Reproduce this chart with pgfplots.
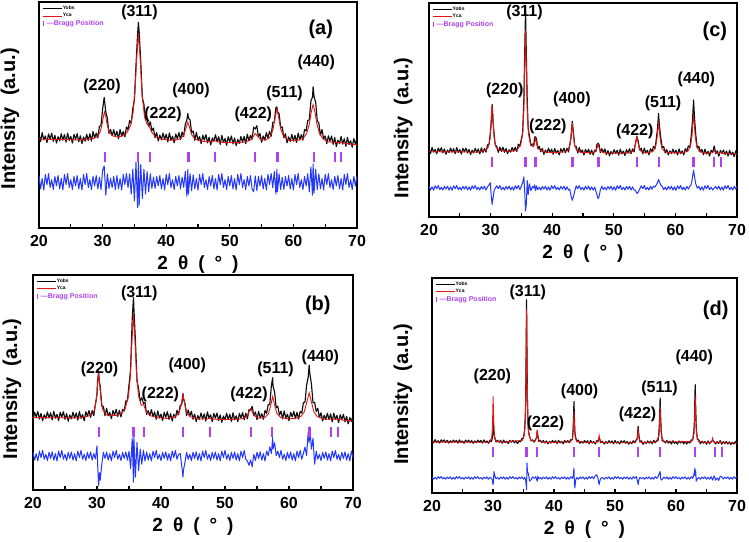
\documentclass[border=0pt]{standalone}
\usepackage{fontspec}
\setmainfont{Liberation Sans}
\usepackage{pgfplots}
\pgfplotsset{compat=1.18}
\usepackage{pgfplotstable}
\definecolor{obscol}{RGB}{15,15,15}
\definecolor{calcol}{RGB}{230,20,20}
\definecolor{difcol}{RGB}{35,55,255}
\definecolor{bragcol}{RGB}{175,65,240}
\newcommand{\tickfont}{\fontsize{16bp}{16bp}\selectfont\bfseries}
\newcommand{\xlabfont}{\fontsize{19bp}{19bp}\selectfont\bfseries}
\newcommand{\ylabfont}{\fontsize{20bp}{20bp}\selectfont\bfseries}
\newcommand{\pkfont}{\fontsize{16bp}{16bp}\selectfont\bfseries}
\newcommand{\panfont}{\fontsize{20bp}{20bp}\selectfont\bfseries}
\newcommand{\legfont}{\fontsize{5bp}{5bp}\selectfont\bfseries}
\newcommand{\braggfont}{\fontsize{7bp}{7bp}\selectfont\bfseries}

\pgfplotsset{
 xrd/.style={
  scale only axis, xmin=20, xmax=70, ymin=0, ymax=100,
  xtick={20,30,40,50,60,70}, minor xtick={25,35,45,55,65}, ytick=\empty,
  tick align=inside, xtick pos=bottom,
  major tick length=3.5bp, minor tick length=3.5bp,
  every tick/.style={black, line width=1.3bp},
  axis line style={line width=1.6bp},
  /pgf/number format/assume math mode=true,
  xticklabel style={font=\tickfont, inner sep=0pt, yshift=-7bp},
  xlabel={2\hspace{10bp}θ\hspace{10bp}(\hspace{10bp}°\hspace{10bp})},
  xlabel style={font=\xlabfont, at={(axis description cs:0.5,0)}, anchor=north, inner sep=0pt, yshift=-28bp},
  ylabel={Intensity\ \ (a.u.)},
  legend style={at={(axis description cs:0.01,0.985)}, anchor=north west, draw=none, fill=none, inner sep=0pt, row sep=1bp, nodes={inner sep=0.6bp}},
  legend cell align=left,
 },
 obsplot/.style={obscol, line width=1.15bp, line join=round, legend image code/.code={\draw[black, line width=0.8bp] (0bp,0bp)--(19bp,0bp);}},
 calplot/.style={calcol, line width=0.9bp, legend image code/.code={\draw[calcol, line width=0.8bp] (0bp,0bp)--(19bp,0bp);}},
 difplot/.style={difcol, line width=1.0bp, line join=round, forget plot},
 bragplot/.style={bragcol, only marks, mark=|, mark size=5bp, mark options={draw=bragcol, line width=2.2bp, line cap=butt}, legend image code/.code={\draw[bragcol, line width=1.3bp] (1bp,-2.5bp)--(1bp,2.5bp);}},
}

\pgfplotstableread{
x o d
20.00 41.5 23.2
20.25 38.2 17.3
20.50 42.2 21.9
20.75 39.0 16.8
21.00 40.7 23.7
21.25 37.8 19.2
21.50 41.6 24.1
21.75 39.4 17.9
22.00 41.9 21.4
22.25 38.4 17.0
22.50 41.0 22.8
22.75 37.6 18.6
23.00 40.4 23.2
23.25 38.6 17.3
23.50 41.7 21.9
23.75 38.9 16.8
24.00 41.3 23.7
24.25 38.0 19.2
24.50 42.0 24.1
24.75 38.8 17.9
25.00 40.5 21.4
25.25 37.6 17.0
25.50 41.4 22.8
25.75 39.2 18.6
26.00 41.7 23.2
26.25 38.2 17.3
26.50 40.8 21.9
26.75 37.4 16.8
27.00 40.3 23.7
27.25 38.4 19.2
27.50 41.5 24.1
27.75 38.7 17.9
28.00 41.7 21.4
28.25 38.5 17.0
28.50 42.7 22.8
28.75 39.8 18.6
29.00 42.0 23.2
29.25 39.9 17.3
29.50 45.0 22.5
29.75 45.4 17.0
30.00 52.5 25.5
30.25 57.8 27.5
30.50 51.3 14.5
30.75 48.6 24.0
31.00 41.8 17.5
31.25 43.6 22.0
31.50 40.8 17.9
31.75 43.5 22.8
32.00 40.5 17.0
32.25 42.8 23.2
32.50 39.5 17.3
32.75 43.6 21.9
33.00 40.6 16.8
33.25 42.7 23.7
33.50 40.3 19.2
33.75 44.7 24.1
34.00 43.5 17.9
34.25 47.5 24.0
34.50 46.4 15.0
34.75 52.9 26.0
35.00 56.7 12.0
35.25 72.1 29.0
35.50 85.7 9.0
35.63 91.0 30.5
35.75 86.5 10.0
36.00 73.6 28.0
36.25 57.7 13.0
36.50 54.6 26.0
36.75 47.8 15.0
37.00 48.2 25.0
37.25 45.0 16.0
37.50 47.0 24.0
37.75 43.0 17.5
38.00 44.2 22.5
38.25 39.9 17.5
38.50 42.2 22.8
38.75 38.5 18.6
39.00 41.1 23.2
39.25 39.0 17.3
39.50 42.0 21.9
39.75 39.2 16.8
40.00 41.5 23.7
40.25 38.1 19.2
40.50 42.1 24.1
40.75 38.8 17.9
41.00 40.6 21.4
41.25 37.7 17.0
41.50 41.6 22.8
41.75 39.5 18.6
42.00 42.2 23.2
42.25 39.2 17.3
42.50 42.5 22.5
42.75 40.5 18.0
43.00 45.9 25.0
43.25 47.8 14.0
43.40 50.7 26.0
43.50 48.6 15.0
43.75 47.8 24.0
44.00 42.1 16.5
44.25 42.9 23.5
44.50 38.8 17.3
44.75 42.3 21.9
45.00 38.8 16.8
45.25 40.4 23.7
45.50 37.3 19.2
45.75 41.0 24.1
46.00 38.9 17.9
46.25 41.3 21.4
46.50 37.7 17.0
46.75 40.2 22.8
47.00 36.7 18.6
47.25 39.8 23.2
47.50 38.4 17.3
47.75 41.3 21.9
48.00 38.1 16.8
48.25 40.4 23.7
48.50 37.0 19.2
48.75 41.0 24.1
49.00 37.8 17.9
49.25 39.6 21.4
49.50 36.6 17.0
49.75 40.4 22.8
50.00 38.2 18.6
50.25 40.7 23.2
50.50 37.2 17.3
50.75 39.8 21.9
51.00 36.4 16.8
51.25 39.2 23.7
51.50 37.4 19.2
51.75 40.5 24.1
52.00 38.0 17.9
52.25 40.5 21.4
52.50 37.3 17.0
52.75 41.5 22.8
53.00 38.6 18.6
53.25 41.0 23.2
53.50 39.2 17.3
53.75 44.6 16.0
54.00 43.8 23.0
54.25 45.3 16.5
54.50 40.2 22.8
54.75 41.8 18.6
55.00 37.9 23.2
55.25 40.7 17.3
55.50 38.9 21.9
55.75 42.2 16.8
56.00 39.7 23.7
56.25 42.8 19.2
56.50 40.6 24.1
56.75 46.6 17.9
57.00 47.0 25.0
57.25 53.4 15.0
57.40 53.6 26.0
57.50 51.3 16.0
57.75 50.6 24.0
58.00 44.4 17.0
58.25 44.7 22.4
58.50 39.9 17.0
58.75 41.7 22.8
59.00 37.7 18.6
59.25 40.3 23.2
59.50 38.3 17.3
59.75 41.4 21.9
60.00 38.5 16.8
60.25 41.0 23.7
60.50 37.9 19.2
60.75 42.0 24.1
61.00 39.0 17.9
61.25 41.3 21.4
61.50 38.9 17.0
61.75 43.6 22.8
62.00 42.9 18.6
62.25 47.5 24.0
62.50 47.9 16.0
62.75 56.2 27.0
63.00 57.9 14.5
63.10 62.5 28.4
63.25 58.0 15.5
63.50 55.7 26.0
63.75 47.5 17.0
64.00 46.4 24.0
64.25 40.9 17.3
64.50 43.6 21.9
64.75 39.5 16.8
65.00 40.7 23.7
65.25 37.3 19.2
65.50 40.8 24.1
65.75 38.4 17.9
66.00 40.7 21.4
66.25 37.0 17.0
66.50 40.0 22.8
66.75 36.0 18.6
67.00 38.9 23.2
67.25 37.3 17.3
67.50 40.5 21.9
67.75 37.1 16.8
68.00 39.5 23.7
68.25 36.1 19.2
68.50 40.1 24.1
68.75 36.9 17.9
69.00 38.6 21.4
69.25 35.7 17.0
69.50 39.5 22.8
69.75 37.2 18.6
70.00 39.7 23.2
}\datA

\pgfplotstableread{
x y
20 39.3
22 39.2
24 39.1
27 38.95
28.5 39.6
29.2 40.6
29.6 42.4
29.9 45.6
30.1 48.9
30.3 51.3
30.5 49.3
30.7 46.0
31.0 42.8
31.5 40.9
32.2 40.3
33.0 40.6
33.8 42.1
34.4 45.3
34.8 51.2
35.1 61.0
35.35 74.8
35.63 86.1
35.9 75.4
36.2 59.4
36.6 49.1
37.0 45.9
37.3 45.3
37.7 42.5
38.3 40.4
39.5 39.2
40.5 38.9
41.5 38.9
42.3 39.6
42.8 41.4
43.1 44.2
43.4 46.8
43.7 44.2
44.0 41.3
44.5 39.4
45.5 38.4
47.2 38.2
47.6 38.7
48.0 38.2
49 37.85
51 37.75
52.5 38.1
53.3 39.0
53.7 40.5
54.0 41.8
54.3 40.9
54.8 39.2
55.6 38.9
56.3 40.1
56.8 43.6
57.1 48.5
57.4 52.6
57.7 48.7
58.0 43.8
58.5 40.3
59.3 38.8
60.5 38.6
61.5 39.6
62.1 41.9
62.5 46.0
62.8 51.2
63.1 54.6
63.4 51.2
63.7 46.0
64.1 41.8
64.7 39.3
65.5 38.1
66.5 37.9
67.5 37.8
68.5 37.3
70 36.8
}\calA

\pgfplotstableread{
x o d
20.00 32.4 17.7
20.25 36.2 13.9
20.50 34.0 16.9
20.75 36.5 13.5
21.00 33.0 18.1
21.25 35.6 15.1
21.50 32.2 18.4
21.75 35.0 14.3
22.00 33.2 16.6
22.25 36.3 13.7
22.50 33.5 17.5
22.75 35.9 14.7
23.00 32.6 17.7
23.25 36.6 13.9
23.50 33.4 16.9
23.75 35.2 13.5
24.00 32.3 18.1
24.25 36.1 15.1
24.50 33.9 18.4
24.75 36.4 14.3
25.00 32.9 16.6
25.25 35.5 13.7
25.50 32.0 17.5
25.75 34.9 14.7
26.00 33.1 17.7
26.25 36.2 13.9
26.50 33.4 16.9
26.75 35.8 13.5
27.00 32.5 18.1
27.25 36.5 15.1
27.50 33.3 18.4
27.75 35.1 14.3
28.00 32.2 16.6
28.25 36.4 13.7
28.50 34.3 17.5
28.75 37.0 14.7
29.00 33.8 17.7
29.25 36.9 13.9
29.50 34.6 16.9
29.75 39.9 14.5
30.00 44.4 20.5
30.10 51.3 12.0
30.25 54.7 2.0
30.40 49.6 8.0
30.50 48.3 4.5
30.75 39.0 12.0
31.00 38.9 17.5
31.25 34.5 14.7
31.50 38.0 17.7
31.75 34.5 13.9
32.00 36.1 16.9
32.25 33.2 13.5
32.50 37.0 18.1
32.75 34.9 15.1
33.00 37.5 18.4
33.25 34.2 14.3
33.50 37.0 16.6
33.75 34.0 13.7
34.00 37.5 17.5
34.25 36.7 14.7
34.50 41.4 17.7
34.75 41.4 13.9
35.00 48.9 18.0
35.25 56.1 10.0
35.50 79.5 24.0
35.70 89.6 3.6
35.75 85.5 26.0
36.00 69.7 6.0
36.25 50.9 22.0
36.50 47.1 9.0
36.75 41.4 19.0
37.00 42.9 12.0
37.25 40.3 18.5
37.50 40.8 13.5
37.75 35.1 17.7
38.00 36.9 13.9
38.25 34.6 16.9
38.50 37.4 13.5
38.75 34.1 18.1
39.00 36.3 15.1
39.25 32.9 18.4
39.50 36.8 14.3
39.75 33.5 16.6
40.00 35.3 13.7
40.25 32.3 17.5
40.50 36.1 14.7
40.75 33.8 17.7
41.00 36.4 13.9
41.25 32.8 16.9
41.50 35.5 13.5
41.75 32.1 18.1
42.00 35.2 15.1
42.25 33.6 18.4
42.50 37.1 14.3
42.75 35.0 16.6
43.00 39.3 17.0
43.25 39.8 11.0
43.44 44.9 6.0
43.50 42.6 9.0
43.75 40.3 13.0
44.00 34.6 17.5
44.25 37.2 14.3
44.50 34.4 16.6
44.75 36.6 13.7
45.00 32.9 17.5
45.25 35.3 14.7
45.50 31.8 17.7
45.75 34.6 13.9
46.00 32.8 16.9
46.25 35.8 13.5
46.50 33.0 18.1
46.75 35.4 15.1
47.00 32.1 18.4
47.25 36.3 14.3
47.50 33.4 16.6
47.75 35.0 13.7
48.00 31.8 17.5
48.25 35.6 14.7
48.50 33.4 17.7
48.75 35.8 13.9
49.00 32.3 16.9
49.25 34.9 13.5
49.50 31.5 18.1
49.75 34.4 15.1
50.00 32.6 18.4
50.25 35.7 14.3
50.50 32.8 16.6
50.75 35.2 13.7
51.00 31.9 17.5
51.25 35.9 14.7
51.50 32.7 17.7
51.75 34.5 13.9
52.00 31.8 16.9
52.25 35.6 13.5
52.50 33.5 18.1
52.75 36.0 15.1
53.00 32.7 18.4
53.25 35.7 14.3
53.50 33.1 13.5
53.75 37.4 11.5
54.00 37.1 14.0
54.25 38.9 10.8
54.50 34.7 16.6
54.75 36.3 13.7
55.00 32.7 17.5
55.25 36.6 14.7
55.50 33.5 17.7
55.75 35.5 13.9
56.00 32.9 16.9
56.25 37.0 13.5
56.50 35.6 18.1
56.75 39.8 16.0
57.00 39.7 20.0
57.25 48.6 17.0
57.45 52.2 24.5
57.50 48.4 19.0
57.75 45.5 22.0
58.00 38.3 16.0
58.25 39.0 18.1
58.50 34.9 15.1
58.75 36.7 18.4
59.00 33.1 14.3
59.25 36.8 16.6
59.50 33.5 13.7
59.75 35.3 17.5
60.00 32.2 14.7
60.25 36.1 17.7
60.50 34.0 13.9
60.75 36.6 16.9
61.00 33.2 13.5
61.25 36.1 18.1
61.50 33.0 15.1
61.75 36.5 18.4
62.00 35.8 14.3
62.25 40.6 17.0
62.50 40.9 20.0
62.75 48.8 16.0
63.00 52.5 27.0
63.15 58.1 22.0
63.25 54.3 29.4
63.50 49.4 19.0
63.75 40.6 24.0
64.00 40.8 12.0
64.25 36.6 18.0
64.50 38.0 14.3
64.75 33.7 16.6
65.00 35.9 13.7
65.25 32.1 17.5
65.50 34.8 14.7
65.75 32.8 17.7
66.00 35.7 13.9
66.25 32.8 16.9
66.50 35.4 13.5
66.75 31.7 18.1
67.00 35.7 15.1
67.25 32.8 18.4
67.50 34.7 14.3
67.75 31.3 16.6
68.00 35.0 13.7
68.25 32.8 17.5
68.50 35.2 14.7
68.75 31.7 17.7
69.00 34.2 13.9
69.25 30.8 16.9
69.50 33.7 13.5
69.75 31.8 18.1
70.00 34.9 15.1
}\datB

\pgfplotstableread{
x y
20 33.7
24 33.6
27 33.5
28.5 34.2
29.2 35.1
29.6 37.1
29.9 42.0
30.1 49.6
30.26 54.1
30.42 49.7
30.6 42.7
30.9 37.4
31.4 35.0
32.2 34.6
33.0 34.7
33.8 35.6
34.4 37.8
34.9 43.3
35.2 52.5
35.45 68.5
35.7 81.7
35.95 68.7
36.2 52.6
36.5 43.7
36.9 39.4
37.3 39.7
37.7 36.3
38.3 34.6
39.5 33.6
41.0 33.3
42.3 34.3
42.8 35.8
43.1 38.9
43.44 44.2
43.8 38.6
44.1 35.6
44.6 34.0
46.0 33.0
47.2 33.0
47.6 33.5
48.0 32.95
49 32.85
51 32.8
52.8 33.2
53.5 34.6
53.8 36.7
54.0 37.8
54.2 36.8
54.5 34.7
55.2 33.4
56.2 33.7
56.8 35.5
57.15 39.5
57.45 43.4
57.75 39.6
58.1 35.6
58.7 33.7
59.8 33.1
61.0 33.25
61.9 34.3
62.4 36.4
62.8 41.1
63.15 45.2
63.5 41.0
63.9 36.3
64.4 34.2
65.5 32.9
66.5 32.9
67.5 33.0
68.5 32.45
70 32.2
}\calB

\pgfplotstableread{
x o d
20.00 32.0 14.4
20.25 29.7 12.6
20.50 32.5 14.1
20.75 30.3 12.5
21.00 31.6 14.6
21.25 29.5 13.2
21.50 32.2 14.7
21.75 30.6 12.8
22.00 32.4 13.9
22.25 30.0 12.6
22.50 31.8 14.3
22.75 29.3 13.0
23.00 31.3 14.4
23.25 30.1 12.6
23.50 32.2 14.1
23.75 30.3 12.5
24.00 31.9 14.6
24.25 29.6 13.2
24.50 32.4 14.7
24.75 30.2 12.8
25.00 31.5 13.9
25.25 29.4 12.6
25.50 32.1 14.3
25.75 30.5 13.0
26.00 32.2 14.4
26.25 29.9 12.6
26.50 31.6 14.1
26.75 29.2 12.5
27.00 31.2 14.6
27.25 30.0 13.2
27.50 32.1 14.7
27.75 30.2 12.8
28.00 31.8 13.9
28.25 29.5 12.6
28.50 32.3 14.3
28.75 30.1 13.0
29.00 32.0 14.4
29.25 30.3 12.6
29.50 33.7 14.1
29.75 33.9 15.0
29.95 39.2 16.0
30.10 44.3 10.0
30.25 52.6 5.9
30.40 44.5 9.0
30.55 39.2 12.0
30.75 33.6 13.5
31.00 33.0 14.6
31.25 30.2 13.2
31.50 32.6 14.7
31.75 30.7 12.8
32.00 32.6 13.9
32.25 30.2 12.6
32.50 32.0 14.3
32.75 29.6 13.0
33.00 31.4 14.4
33.25 30.3 12.6
33.50 32.5 14.1
33.75 30.7 12.5
34.00 32.6 14.6
34.25 30.6 13.2
34.50 34.0 14.7
34.75 32.9 12.8
35.00 36.6 14.5
35.20 39.2 16.0
35.40 55.2 18.8
35.55 78.7 11.0
35.67 96.9 2.8
35.80 75.8 6.0
35.95 53.9 17.0
36.10 41.5 10.5
36.30 37.9 15.5
36.55 33.4 12.3
36.80 34.1 14.2
37.00 33.2 13.5
37.15 37.3 15.0
37.30 37.5 12.3
37.45 36.5 14.5
37.65 32.1 12.8
37.90 33.0 13.9
38.15 30.5 12.6
38.40 32.0 14.3
38.65 29.3 13.0
38.90 31.3 14.4
39.15 30.0 12.6
39.40 32.1 14.1
39.65 30.1 12.5
39.90 31.7 14.6
40.15 29.3 13.2
40.40 32.0 14.7
40.65 29.8 12.8
40.90 31.1 13.9
41.15 29.0 12.6
41.40 31.9 14.3
41.65 30.3 13.0
41.90 32.2 14.4
42.15 30.0 12.6
42.40 32.1 14.1
42.65 30.4 12.5
42.85 33.9 13.0
43.05 36.9 10.0
43.26 44.7 7.8
43.45 39.4 9.5
43.65 33.2 12.0
43.90 32.9 14.6
44.15 29.9 13.2
44.40 32.5 14.7
44.65 30.1 12.8
44.90 31.3 13.9
45.15 29.0 12.6
45.40 31.6 14.3
45.65 30.0 13.0
45.90 31.7 14.4
46.15 29.3 12.6
46.40 31.3 14.1
46.65 29.0 12.5
46.90 31.2 14.0
47.10 30.6 12.0
47.25 33.8 10.5
47.45 34.5 8.6
47.60 33.9 9.5
47.80 30.1 12.5
48.05 31.9 14.4
48.30 30.1 12.8
48.55 31.8 13.9
48.80 29.2 12.6
49.05 31.0 14.3
49.30 28.6 13.0
49.55 30.6 14.4
49.80 29.4 12.6
50.05 31.5 14.1
50.30 29.6 12.5
50.55 31.2 14.6
50.80 28.9 13.2
51.05 31.7 14.7
51.30 29.5 12.8
51.55 30.8 13.9
51.80 28.7 12.6
52.05 31.5 14.3
52.30 29.9 13.0
52.55 31.9 14.4
52.80 29.6 12.6
53.05 31.8 14.1
53.30 30.4 12.5
53.50 34.4 12.5
53.75 37.6 11.0
53.95 35.7 11.5
54.20 31.3 13.0
54.45 32.2 14.6
54.70 29.5 13.2
54.95 32.2 14.7
55.20 29.9 12.8
55.45 31.2 13.9
55.70 29.0 12.6
55.95 31.9 14.3
56.20 30.6 13.0
56.45 33.0 14.4
56.70 32.0 14.0
56.90 36.6 15.0
57.10 41.3 16.0
57.26 48.4 17.5
57.40 42.8 16.5
57.60 37.6 15.0
57.85 32.5 14.4
58.10 32.9 12.8
58.35 29.9 13.9
58.60 31.5 12.6
58.85 29.0 14.3
59.10 30.9 13.0
59.35 29.6 14.4
59.60 31.7 12.6
59.85 29.8 14.1
60.10 31.2 12.5
60.35 29.0 14.6
60.60 31.8 13.2
60.85 29.6 14.7
61.10 30.9 12.8
61.35 29.0 13.9
61.60 31.9 12.6
61.85 30.7 14.3
62.10 33.2 13.0
62.35 32.5 14.4
62.55 37.4 15.0
62.75 43.9 18.0
62.95 54.7 21.9
63.10 46.5 19.0
63.30 38.6 15.5
63.55 32.2 13.5
63.80 33.0 14.4
64.05 30.4 12.6
64.30 31.6 14.1
64.55 29.1 12.5
64.80 31.7 14.6
65.05 29.4 13.2
65.30 30.7 14.7
65.55 28.5 12.8
65.80 31.2 13.9
66.05 30.2 12.6
66.30 33.2 13.5
66.55 29.6 14.3
66.80 30.9 13.0
67.05 28.4 14.4
67.30 31.1 12.6
67.55 29.7 14.1
67.80 31.3 12.5
68.05 29.2 14.6
68.30 30.8 13.2
68.55 28.5 14.7
68.80 31.2 12.8
69.05 29.1 13.9
69.30 30.3 12.6
69.55 28.2 14.3
69.80 30.9 13.0
70.00 29.3 14.4
}\datC

\pgfplotstableread{
x y
20 30.5
25 30.4
28 30.3
29.2 31.2
29.6 32.5
29.9 36.4
30.05 42.3
30.15 48.3
30.25 52.0
30.35 48.3
30.45 42.3
30.6 36.4
30.9 32.4
31.4 31.1
32.5 30.7
33.5 30.8
34.3 31.4
34.9 33.8
35.2 38.9
35.4 50.4
35.55 72.1
35.67 87.2
35.8 70.2
35.95 49.7
36.15 38.8
36.5 33.6
36.9 32.8
37.1 34.1
37.3 36.9
37.5 33.85
37.8 31.7
38.5 30.6
40 30.06
42 30.4
42.6 31.4
42.9 33.8
43.1 39.1
43.26 43.95
43.42 39.1
43.62 33.8
43.95 31.2
44.6 30.25
46.5 29.95
47.05 30.6
47.3 32.5
47.45 34.1
47.6 32.5
47.85 30.6
48.5 29.95
51 29.8
52.5 30.0
53.1 30.7
53.45 32.85
53.6 35.35
53.75 37.4
53.9 35.35
54.05 32.85
54.4 30.7
55.2 29.95
56.3 30.5
56.75 32.3
57.0 36.3
57.13 40.6
57.26 43.6
57.4 40.4
57.55 35.8
57.8 32.1
58.3 30.4
59.5 29.95
61.2 30.0
62.0 30.7
62.45 33.0
62.7 38.1
62.83 43.5
62.95 46.8
63.08 43.4
63.2 38.0
63.45 33.0
63.9 30.6
64.8 29.8
66.0 29.9
66.3 31.0
66.6 29.95
67.1 29.7
67.4 30.4
67.7 29.7
69 29.45
70 29.4
}\calC

\pgfplotstableread{
x o d
20.00 24.6 7.5
20.25 23.3 6.4
20.50 24.8 7.3
20.75 23.6 6.4
21.00 24.3 7.6
21.25 23.2 6.8
21.50 24.7 7.6
21.75 23.8 6.6
22.00 24.7 7.2
22.25 23.5 6.4
22.50 24.5 7.4
22.75 23.2 6.7
23.00 24.3 7.5
23.25 23.5 6.4
23.50 24.6 7.3
23.75 23.7 6.4
24.00 24.5 7.6
24.25 23.2 6.8
24.50 24.7 7.6
24.75 23.5 6.6
25.00 24.2 7.2
25.25 23.1 6.4
25.50 24.6 7.4
25.75 23.7 6.7
26.00 24.6 7.5
26.25 23.4 6.4
26.50 24.4 7.3
26.75 23.1 6.4
27.00 24.2 7.6
27.25 23.4 6.8
27.50 24.6 7.6
27.75 23.6 6.6
28.00 24.5 7.2
28.25 23.2 6.4
28.50 24.7 7.4
28.75 23.5 6.7
29.00 24.2 7.5
29.25 23.1 6.4
29.50 24.6 7.3
29.75 23.9 6.8
29.90 25.7 6.0
30.00 28.0 3.9
30.08 32.9 5.5
30.15 28.7 10.0
30.30 25.4 8.0
30.50 23.7 6.6
30.75 24.5 7.2
31.00 23.6 6.4
31.25 24.5 7.4
31.50 23.1 6.7
31.75 24.6 7.5
32.00 23.4 6.4
32.25 24.1 7.3
32.50 23.0 6.4
32.75 24.5 7.6
33.00 23.6 6.8
33.25 24.5 7.6
33.50 23.3 6.6
33.75 24.3 7.2
34.00 23.0 6.4
34.25 24.1 7.4
34.50 23.8 6.7
34.75 25.4 7.5
35.00 25.5 6.4
35.20 29.9 7.3
35.35 40.4 6.0
35.43 65.3 4.0
35.50 89.9 1.5
35.57 64.4 14.0
35.65 41.7 10.0
35.80 29.1 9.0
36.00 26.3 5.5
36.25 24.2 6.2
36.50 24.7 7.5
36.75 23.7 6.8
37.00 25.0 7.6
37.15 25.9 6.3
37.25 28.8 5.5
37.35 26.7 7.8
37.50 24.0 6.6
37.75 24.5 7.2
38.00 23.5 6.4
38.25 24.4 7.4
38.50 23.2 6.7
38.75 24.2 7.5
39.00 22.9 6.4
39.25 24.0 7.3
39.50 23.2 6.4
39.75 24.4 7.6
40.00 23.4 6.8
40.25 24.3 7.6
40.50 23.0 6.6
40.75 24.5 7.2
41.00 23.3 6.4
41.25 24.0 7.4
41.50 22.9 6.7
41.75 24.4 7.5
42.00 23.5 6.4
42.25 24.4 7.3
42.50 23.4 6.4
42.75 24.8 7.6
43.00 24.8 6.8
43.12 28.9 7.6
43.20 35.1 9.0
43.27 42.6 11.6
43.34 35.8 5.0
43.42 28.3 2.3
43.55 26.0 6.0
43.75 23.9 7.2
44.00 24.6 6.4
44.25 23.1 7.4
44.50 24.0 6.7
44.75 23.2 7.5
45.00 24.4 6.4
45.25 23.4 7.3
45.50 24.3 6.4
45.75 22.9 7.6
46.00 24.4 6.8
46.25 23.2 7.6
46.50 23.9 6.6
46.75 22.8 8.0
47.00 24.3 8.5
47.20 23.8 7.0
47.32 25.2 5.0
47.40 25.5 3.9
47.50 24.9 5.5
47.65 23.4 6.8
47.90 24.1 7.2
48.25 22.8 6.4
48.50 23.9 7.4
48.75 23.1 6.7
49.00 24.3 7.5
49.25 23.3 6.4
49.50 24.2 7.3
49.75 22.9 6.4
50.00 24.4 7.6
50.25 23.2 6.8
50.50 23.9 7.6
50.75 22.8 6.6
51.00 24.3 7.2
51.25 23.4 6.4
51.50 24.3 7.4
51.75 23.1 6.7
52.00 24.0 7.5
52.25 22.7 6.4
52.50 23.8 7.3
52.75 23.0 6.4
53.00 24.3 7.6
53.25 23.4 6.8
53.50 24.8 7.6
53.65 25.3 6.0
53.73 28.6 5.0
53.80 31.0 3.9
53.88 27.9 5.5
53.95 26.0 6.5
54.10 23.7 7.3
54.35 24.2 6.6
54.60 22.7 7.2
54.85 23.8 6.4
55.10 23.0 7.4
55.35 24.2 6.7
55.60 23.2 7.5
55.85 24.1 6.4
56.10 22.9 7.3
56.35 24.5 6.4
56.60 23.4 7.6
56.85 24.5 6.8
57.05 24.2 7.6
57.20 28.3 8.5
57.30 33.5 9.5
57.40 44.2 10.0
57.48 35.5 7.0
57.58 28.8 6.0
57.75 24.2 6.4
58.00 24.3 7.4
58.25 23.3 6.7
58.50 24.4 7.5
58.75 23.2 6.4
59.00 24.1 7.3
59.25 22.8 6.4
59.50 24.3 7.6
59.75 23.1 6.8
60.00 23.8 7.6
60.25 22.7 6.6
60.50 24.2 7.2
60.75 23.3 6.4
61.00 24.1 7.4
61.25 22.9 6.7
61.50 23.9 7.5
61.75 22.8 6.4
62.00 23.9 7.3
62.25 23.2 6.4
62.50 24.7 7.6
62.75 24.7 6.8
62.92 28.3 8.5
63.03 33.8 10.0
63.10 45.2 11.6
63.15 50.4 8.0
63.22 41.1 10.5
63.32 30.6 5.5
63.50 24.9 6.6
63.75 24.7 7.2
64.00 22.9 6.4
64.25 24.1 7.4
64.50 23.2 6.7
64.75 24.0 7.5
65.00 22.7 6.4
65.25 24.2 7.3
65.50 23.0 6.4
65.75 23.9 7.6
66.00 24.4 6.0
66.25 24.0 8.0
66.50 22.8 6.0
66.75 23.9 7.0
67.00 23.0 5.8
67.25 24.4 7.8
67.50 22.7 7.5
67.75 23.9 6.5
68.00 23.0 7.4
68.25 24.0 6.7
68.50 22.8 7.5
68.75 23.8 6.4
69.00 22.5 7.3
69.25 23.6 6.4
69.50 22.8 7.6
69.75 24.0 6.8
70.00 23.0 7.6
}\datD

\pgfplotstableread{
x y
20 23.7
29.5 23.6
29.8 26.1
29.92 31.9
29.97 38.9
30.02 44.9
30.07 38.9
30.12 31.9
30.24 26.1
30.5 24.2
31.5 23.55
34.8 24.5
35.15 27.3
35.3 34.0
35.4 51.5
35.45 71.1
35.5 85.3
35.55 72.0
35.6 55.0
35.7 35.0
35.85 27.4
36.2 24.5
36.9 24.05
37.12 25.8
37.25 29.5
37.38 25.8
37.6 24.0
38.5 23.5
42.7 23.8
43.05 25.5
43.18 30.7
43.27 37.9
43.36 30.7
43.49 25.5
43.8 23.8
46.9 23.4
47.25 24.4
47.4 26.8
47.55 24.4
47.9 23.4
53.3 23.35
53.65 25.2
53.8 29.3
53.95 25.2
54.3 23.4
56.8 23.8
57.2 26.7
57.32 33.5
57.4 40.2
57.48 33.5
57.6 26.7
58.0 23.8
62.6 23.9
62.95 27.6
63.07 36.5
63.15 45.0
63.23 36.5
63.35 27.6
63.7 23.9
65.7 23.25
65.9 24.4
66.0 25.5
66.1 24.4
66.3 23.25
67.05 23.4
67.2 24.2
67.35 23.4
70 23.2
}\calD

\begin{document}
\begin{tikzpicture}
\useasboundingbox (0,0) rectangle (749bp,542bp);

% ---------- (a) ----------
\begin{axis}[xrd, at={(39bp,314bp)}, anchor=south west, width=318bp, height=226bp,
  ylabel style={font=\ylabfont, at={(axis description cs:-0.091,0.484)}, anchor=center, rotate=0}]
\addplot[obsplot] table[x=x,y=o]{\datA};
\addlegendentry{\legfont Yobs}
\addplot[calplot] table[x=x,y=y]{\calA};
\addlegendentry{\legfont Yca}
\addplot[bragplot] coordinates {(30.4,31.5) (35.6,31.5) (37.4,31.5) (43.5,31.5) (47.7,31.5) (54.0,31.5) (57.5,31.5) (63.2,31.5) (66.5,31.5) (67.5,31.5)};
\addlegendentry{\hspace{-16bp}\textcolor{bragcol}{\braggfont —Bragg Position}}
\addplot[difplot] table[x=x,y=d]{\datA};
\node[font=\pkfont] at (axis cs:29.9,62.6) {(220)};
\node[font=\pkfont] at (axis cs:35.8,95.3) {(311)};
\node[font=\pkfont] at (axis cs:39.5,50.2) {(222)};
\node[font=\pkfont] at (axis cs:43.9,60.8) {(400)};
\node[font=\pkfont] at (axis cs:53.7,50.2) {(422)};
\node[font=\pkfont] at (axis cs:58.6,59.7) {(511)};
\node[font=\pkfont] at (axis cs:63.6,73.1) {(440)};
\node[font=\panfont] at (axis cs:64.3,87.8) {(a)};
\end{axis}

% ---------- (c) ----------
\begin{axis}[xrd, at={(429bp,325bp)}, anchor=south west, width=308bp, height=214bp,
  ylabel style={font=\ylabfont, at={(axis description cs:-0.084,0.416)}, anchor=center, rotate=0}]
\addplot[obsplot] table[x=x,y=o]{\datC};
\addlegendentry{\legfont Yobs}
\addplot[calplot] table[x=x,y=y]{\calC};
\addlegendentry{\legfont Yca}
\addplot[bragplot] coordinates {(30.25,25.5) (35.67,25.5) (37.3,25.5) (43.3,25.5) (47.5,25.5) (53.8,25.5) (57.4,25.5) (62.95,25.5) (66.3,25.5) (67.4,25.5)};
\addlegendentry{\hspace{-16bp}\textcolor{bragcol}{\braggfont —Bragg Position}}
\addplot[difplot] table[x=x,y=d]{\datC};
\node[font=\pkfont] at (axis cs:32.3,59.4) {(220)};
\node[font=\pkfont] at (axis cs:35.5,95.6) {(311)};
\node[font=\pkfont] at (axis cs:39.3,42.2) {(222)};
\node[font=\pkfont] at (axis cs:43.2,55.0) {(400)};
\node[font=\pkfont] at (axis cs:53.4,39.8) {(422)};
\node[font=\pkfont] at (axis cs:58.0,53.1) {(511)};
\node[font=\pkfont] at (axis cs:63.4,64.1) {(440)};
\node[font=\panfont] at (axis cs:66.4,86.7) {(c)};
\end{axis}

% ---------- (b) ----------
\begin{axis}[xrd, at={(33bp,52bp)}, anchor=south west, width=320bp, height=215bp,
  ylabel style={font=\ylabfont, at={(axis description cs:-0.066,0.47)}, anchor=center, rotate=0}]
\addplot[obsplot] table[x=x,y=o]{\datB};
\addlegendentry{\legfont Yobs}
\addplot[calplot] table[x=x,y=y]{\calB};
\addlegendentry{\legfont Yca}
\addplot[bragplot] coordinates {(30.26,26.8) (35.7,26.8) (37.3,26.8) (43.4,26.8) (47.6,26.8) (54.0,26.8) (57.4,26.8) (63.2,26.8) (66.5,26.8) (67.66,26.8)};
\addlegendentry{\hspace{-16bp}\textcolor{bragcol}{\braggfont —Bragg Position}}
\addplot[difplot] table[x=x,y=d]{\datB};
\node[font=\pkfont] at (axis cs:30.4,56.2) {(220)};
\node[font=\pkfont] at (axis cs:36.6,91.3) {(311)};
\node[font=\pkfont] at (axis cs:39.9,44.6) {(222)};
\node[font=\pkfont] at (axis cs:44.1,58.0) {(400)};
\node[font=\pkfont] at (axis cs:53.75,44.6) {(422)};
\node[font=\pkfont] at (axis cs:57.9,56.2) {(511)};
\node[font=\pkfont] at (axis cs:64.9,61.9) {(440)};
\node[font=\panfont] at (axis cs:64.5,85.9) {(b)};
\end{axis}

% ---------- (d) ----------
\begin{axis}[xrd, at={(432bp,49bp)}, anchor=south west, width=305bp, height=215bp,
  ylabel style={font=\ylabfont, at={(axis description cs:-0.095,0.46)}, anchor=center, rotate=0}]
\addplot[obsplot] table[x=x,y=o]{\datD};
\addlegendentry{\legfont Yobs}
\addplot[calplot] table[x=x,y=y]{\calD};
\addlegendentry{\legfont Yca}
\addplot[bragplot] coordinates {(30.0,19.0) (35.5,19.0) (37.25,19.0) (43.27,19.0) (47.4,19.0) (53.8,19.0) (57.4,19.0) (63.15,19.0) (66.33,19.0) (67.5,19.0)};
\addlegendentry{\hspace{-16bp}\textcolor{bragcol}{\braggfont —Bragg Position}}
\addplot[difplot] table[x=x,y=d]{\datD};
\node[font=\pkfont] at (axis cs:29.9,54.3) {(220)};
\node[font=\pkfont] at (axis cs:35.7,93.5) {(311)};
\node[font=\pkfont] at (axis cs:38.6,32.6) {(222)};
\node[font=\pkfont] at (axis cs:44.2,47.3) {(400)};
\node[font=\pkfont] at (axis cs:53.7,36.4) {(422)};
\node[font=\pkfont] at (axis cs:57.3,48.8) {(511)};
\node[font=\pkfont] at (axis cs:63.0,63.1) {(440)};
\node[font=\panfont] at (axis cs:66.5,84.8) {(d)};
\end{axis}
\end{tikzpicture}
\end{document}
